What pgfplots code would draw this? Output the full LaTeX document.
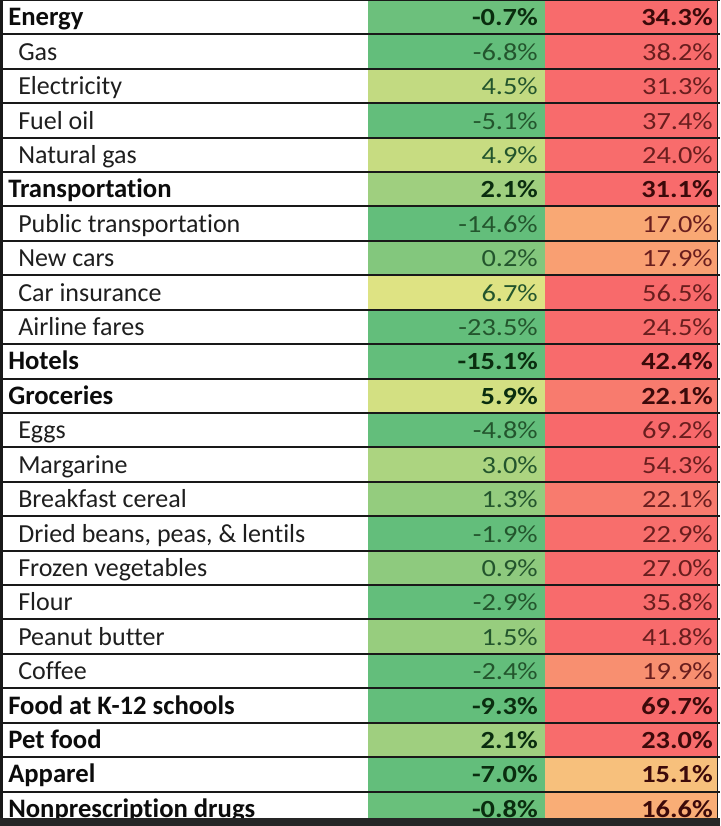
\documentclass[border=0pt]{standalone}
\usepackage{pgfplots}
\usepackage{pgfplotstable}
\pgfplotsset{compat=1.18}
\usepackage{fontspec}
\setmainfont{Carlito}[Ligatures={NoCommon}]
\newfontfamily\numfont[FakeStretch=1.15]{Carlito}
\definecolor{lab}{RGB}{30,30,30}
\definecolor{labb}{RGB}{12,12,12}
\definecolor{gtxt}{RGB}{35,85,45}
\definecolor{gtxtb}{RGB}{10,45,15}
\definecolor{rtxt}{RGB}{105,30,30}
\definecolor{rtxtb}{RGB}{60,10,10}
\pgfdeclareplotmark{cellA}{\pgfpathrectangle{\pgfpoint{-66.4pt}{-13pt}}{\pgfpoint{132.8pt}{26pt}}\pgfusepathqfillstroke}
\pgfdeclareplotmark{cellB}{\pgfpathrectangle{\pgfpoint{-64.5pt}{-13pt}}{\pgfpoint{129pt}{26pt}}\pgfusepathqfillstroke}
\pgfplotsset{colormap={tbl}{rgb255(0pt)=(99,190,123) rgb255(24pt)=(99,190,123) rgb255(25pt)=(128,198,125) rgb255(26pt)=(144,203,126) rgb255(27pt)=(158,207,127) rgb255(28pt)=(172,212,128) rgb255(29.5pt)=(194,218,129) rgb255(31pt)=(212,224,130) rgb255(32pt)=(226,228,131) rgb255(35pt)=(255,235,132) rgb255(39pt)=(250,205,128) rgb255(40pt)=(247,193,124) rgb255(41pt)=(248,181,120) rgb255(42pt)=(249,168,116) rgb255(43pt)=(249,158,114) rgb255(45pt)=(248,142,112) rgb255(47pt)=(248,125,110) rgb255(48pt)=(248,108,108) rgb255(95pt)=(248,105,107)}}
% main categories (bold rows)
\pgfplotstableread[col sep=semicolon]{
row;label;v1;v2
0;Energy;-0.7;34.3
5;Transportation;2.1;31.1
10;Hotels;-15.1;42.4
11;Groceries;5.9;22.1
20;Food at K-12 schools;-9.3;69.7
21;Pet food;2.1;23.0
22;Apparel;-7.0;15.1
23;Nonprescription drugs;-0.8;16.6
}\main
% sub items
\pgfplotstableread[col sep=semicolon]{
row;label;v1;v2
1;Gas;-6.8;38.2
2;Electricity;4.5;31.3
3;Fuel oil;-5.1;37.4
4;Natural gas;4.9;24.0
6;Public transportation;-14.6;17.0
7;New cars;0.2;17.9
8;Car insurance;6.7;56.5
9;Airline fares;-23.5;24.5
12;Eggs;-4.8;69.2
13;Margarine;3.0;54.3
14;Breakfast cereal;1.3;22.1
15;Dried beans, peas, \& lentils;-1.9;22.9
16;Frozen vegetables;0.9;27.0
17;Flour;-2.9;35.8
18;Peanut butter;1.5;41.8
19;Coffee;-2.4;19.9
}\sub
\pgfplotsset{
  cellsA/.style={scatter, only marks, mark=cellA, mark options={line width=0.4pt},
    scatter/use mapped color={draw=mapped color, fill=mapped color}},
  cellsB/.style={scatter, only marks, mark=cellB, mark options={line width=0.4pt},
    scatter/use mapped color={draw=mapped color, fill=mapped color}},
  txt/.style={draw=none, nodes near coords align={anchor=#1},
    every node near coord/.append style={inner sep=0pt, anchor=#1}},
  numA/.style={txt=base east, point meta=explicit,
    nodes near coords={\numfont\fontsize{18.5pt}{20pt}\selectfont#1\pgfmathprintnumber[fixed,fixed zerofill,precision=1,assume math mode=true]{\pgfplotspointmeta}\%}},
  rule/.style={on layer=axis foreground, draw=black!90, line width=1.5pt},
}
\begin{document}
\begin{tikzpicture}
\begin{axis}[
  set layers,
  width=540pt, height=619.5pt, scale only axis,
  xmin=0, xmax=720, ymin=-0.5, ymax=23.5, y dir=reverse,
  hide axis,
  colormap name=tbl,
  point meta min=-25, point meta max=70,
]
% colour cells
\addplot[cellsA, point meta=\thisrow{v1}] table[x expr=456.5, y=row] {\main};
\addplot[cellsA, point meta=\thisrow{v1}] table[x expr=456.5, y=row] {\sub};
\addplot[cellsB, point meta=\thisrow{v2}] table[x expr=631, y=row] {\main};
\addplot[cellsB, point meta=\thisrow{v2}] table[x expr=631, y=row] {\sub};
% row labels
\addplot[txt=base west, point meta=explicit symbolic,
  nodes near coords={\color{labb}\fontsize{20pt}{22pt}\selectfont\bfseries\pgfplotspointmeta}]
  table[x expr=8, y expr=\thisrow{row}+0.25, meta=label] {\main};
\addplot[txt=base west, point meta=explicit symbolic,
  nodes near coords={\color{lab}\fontsize{19.5pt}{22pt}\selectfont\pgfplotspointmeta}]
  table[x expr=18, y expr=\thisrow{row}+0.25, meta=label] {\sub};
% values
\addplot[numA={\color{gtxtb}\bfseries}] table[x expr=538, y expr=\thisrow{row}+0.25, meta=v1] {\main};
\addplot[numA={\color{gtxt}}] table[x expr=538, y expr=\thisrow{row}+0.25, meta=v1] {\sub};
\addplot[numA={\color{rtxtb}\bfseries}] table[x expr=713, y expr=\thisrow{row}+0.25, meta=v2] {\main};
\addplot[numA={\color{rtxt}}] table[x expr=713, y expr=\thisrow{row}+0.25, meta=v2] {\sub};
% row rules (top edge of every row)
\addplot[rule, xcomb] table[x expr=720, y expr=\thisrow{row}-0.5] {\main};
\addplot[rule, xcomb] table[x expr=720, y expr=\thisrow{row}-0.5] {\sub};
% left and right borders
\addplot[rule, line width=2.2pt] coordinates {(1.5,-0.5) (1.5,23.5)};
\addplot[rule, line width=1.2pt] coordinates {(717.5,-0.5) (717.5,23.5)};
% dark band at the bottom edge of the screenshot
\addplot[on layer=axis foreground, draw=black!85, line width=6pt] coordinates {(0,23.38) (720,23.38)};
\end{axis}
\pgfresetboundingbox
\path (current axis.south west) rectangle (current axis.north east);
\end{tikzpicture}
\end{document}
